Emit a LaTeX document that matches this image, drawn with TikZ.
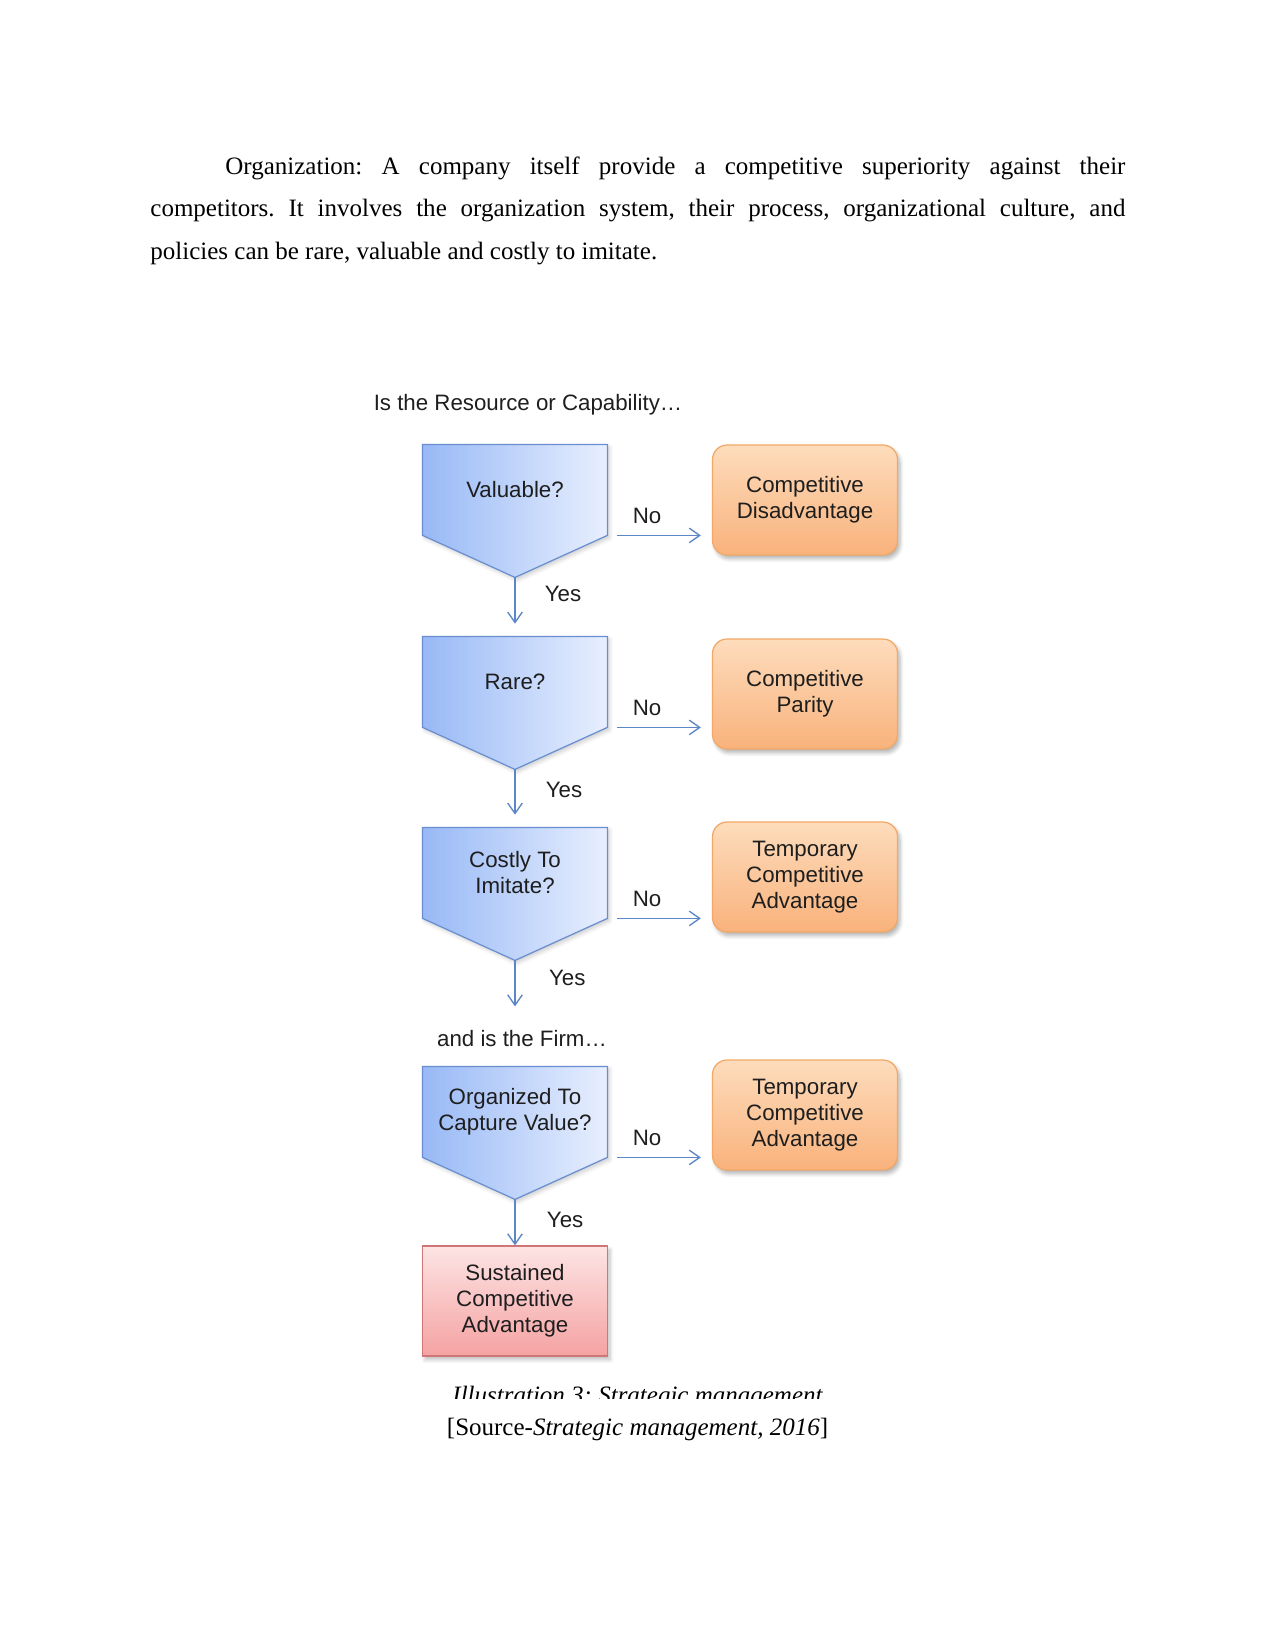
\documentclass[tikz,border=0pt]{standalone}
\usepackage{fontspec}
\setmainfont{Liberation Serif}
\newfontfamily\diagfont{Liberation Sans}
\usetikzlibrary{positioning, arrows.meta, calc, backgrounds, shadows.blur}
\frenchspacing
\definecolor{decLine}{HTML}{6A8FD0}
\definecolor{decLeft}{HTML}{98B9F6}
\definecolor{decRight}{HTML}{E8EFFE}
\definecolor{outLine}{HTML}{F2A866}
\definecolor{outTop}{HTML}{FDDCBC}
\definecolor{outBottom}{HTML}{F9B27C}
\definecolor{finLine}{HTML}{CF7676}
\definecolor{finTop}{HTML}{FDE4E4}
\definecolor{finBottom}{HTML}{F5A2A2}
\definecolor{arrowBlue}{HTML}{5B86C8}
\definecolor{mText}{HTML}{1E1E1E}

\begin{document}
\begin{tikzpicture}[
  x=0.48pt, y=-0.48pt,
  diag/.style={
    inner sep=0pt,
    align=center,
    text=mText,
    font={\diagfont\fontsize{10.7}{12.5}\selectfont}
  },
  decision/.style={
    diag,
    minimum width=88.3pt,
    minimum height=43.2pt
  },
  decshape/.style={
    draw=decLine,
    line width=0.6pt,
    left color=decLeft,
    right color=decRight,
    blur shadow={shadow xshift=1pt, shadow yshift=-1.2pt, shadow opacity=20, shadow blur steps=5}
  },
  outcome/.style={
    diag,
    draw=outLine,
    line width=0.6pt,
    top color=outTop,
    bottom color=outBottom,
    rounded corners=7pt,
    minimum width=88.8pt,
    minimum height=52.8pt,
    blur shadow={shadow xshift=1.2pt, shadow yshift=-1.8pt, shadow opacity=30, shadow blur steps=6}
  },
  final/.style={
    diag,
    draw=finLine,
    line width=0.6pt,
    top color=finTop,
    bottom color=finBottom,
    minimum width=88.8pt,
    minimum height=52.8pt,
    blur shadow={shadow xshift=1.2pt, shadow yshift=-1.8pt, shadow opacity=25, shadow blur steps=6}
  },
  arrow/.style={
    -{Straight Barb[length=5pt, width=7pt]},
    draw=arrowBlue,
    line width=0.65pt
  },
  lbl/.style={diag},
  para/.style={
    inner sep=0pt,
    text width=468pt,
    align=justify,
    font={\fontsize{12}{20.6}\selectfont}
  },
  capt/.style={
    inner sep=0pt,
    font={\fontsize{12}{14}\selectfont}
  }
]
\useasboundingbox (0,0) rectangle (1275,1650);

% body text of the page
\node[para, anchor=north west] (txt) at (150,156) {\hspace*{36pt}Organization: A company itself provide a competitive superiority against their\linebreak competitors. It involves the organization system, their process, organizational culture, and\linebreak policies can be rare, valuable and costly to imitate.};

% questions
\node[diag] (res) at (528,405) {Is the Resource or Capability…};
\node[decision] (val) at (515,490) {Valuable?};
\node[decision] (rare) at (515,682) {Rare?};
\node[decision] (cost) at (515,873) {Costly To\\Imitate?};
\node[diag] (firm) at (522,1039) {and is the Firm…};
\node[decision] (org) at (515,1112) {Organized To\\Capture Value?};

% outcomes
\node[outcome] (dis) at (805,500) {Competitive\\Disadvantage};
\node[outcome] (par) at (805,694) {Competitive\\Parity};
\node[outcome] (tmp) at (805,877) {Temporary\\Competitive\\Advantage};
\node[outcome] (tmpb) at (805,1115) {Temporary\\Competitive\\Advantage};
\node[final] (sca) at (515,1301) {Sustained\\Competitive\\Advantage};

% pentagon outlines behind the questions
\begin{scope}[on background layer]
  \foreach \d in {val, rare, cost, org} {
    \coordinate (\d-tip) at ($(\d.south)+(0,42)$);
    \shade[decshape] (\d.north west) -- (\d.north east) -- (\d.south east)
      -- (\d-tip) -- (\d.south west) -- cycle;
  }
\end{scope}

% no branches
\foreach \a/\b in {val/dis, rare/par, cost/tmp, org/tmpb}
  \draw[arrow, shorten <=4.8pt, shorten >=5.3pt] (\a.south east) -- (\a.south east -| \b.west)
    node[lbl, above=5.5pt, pos=0.38] {No};

% yes branches
\draw[arrow, shorten >=6.2pt] (val-tip) -- (rare.north)
  node[lbl, right=14pt, pos=0.28] {Yes};
\draw[arrow, shorten >=6.2pt] (rare-tip) -- (cost.north)
  node[lbl, right=14.5pt, pos=0.35] {Yes};
\draw[arrow, shorten >=11.5pt] (cost-tip) -- (cost-tip |- firm.north)
  node[lbl, right=16pt, pos=0.25] {Yes};
\draw[arrow] (org-tip) -- (sca.north)
  node[lbl, right=15pt, pos=0.45] {Yes};

% caption, cut off at the bottom of the image
\begin{scope}
  \clip (0,1370) rectangle (1275,1398);
  \node[capt, anchor=base] (ill) at (637.5,1403) {\itshape Illustration 3: Strategic management};
\end{scope}
\node[capt, anchor=base] (src) at (637.5,1435) {[Source-\textit{Strategic management, 2016}]};

\end{tikzpicture}
\end{document}
